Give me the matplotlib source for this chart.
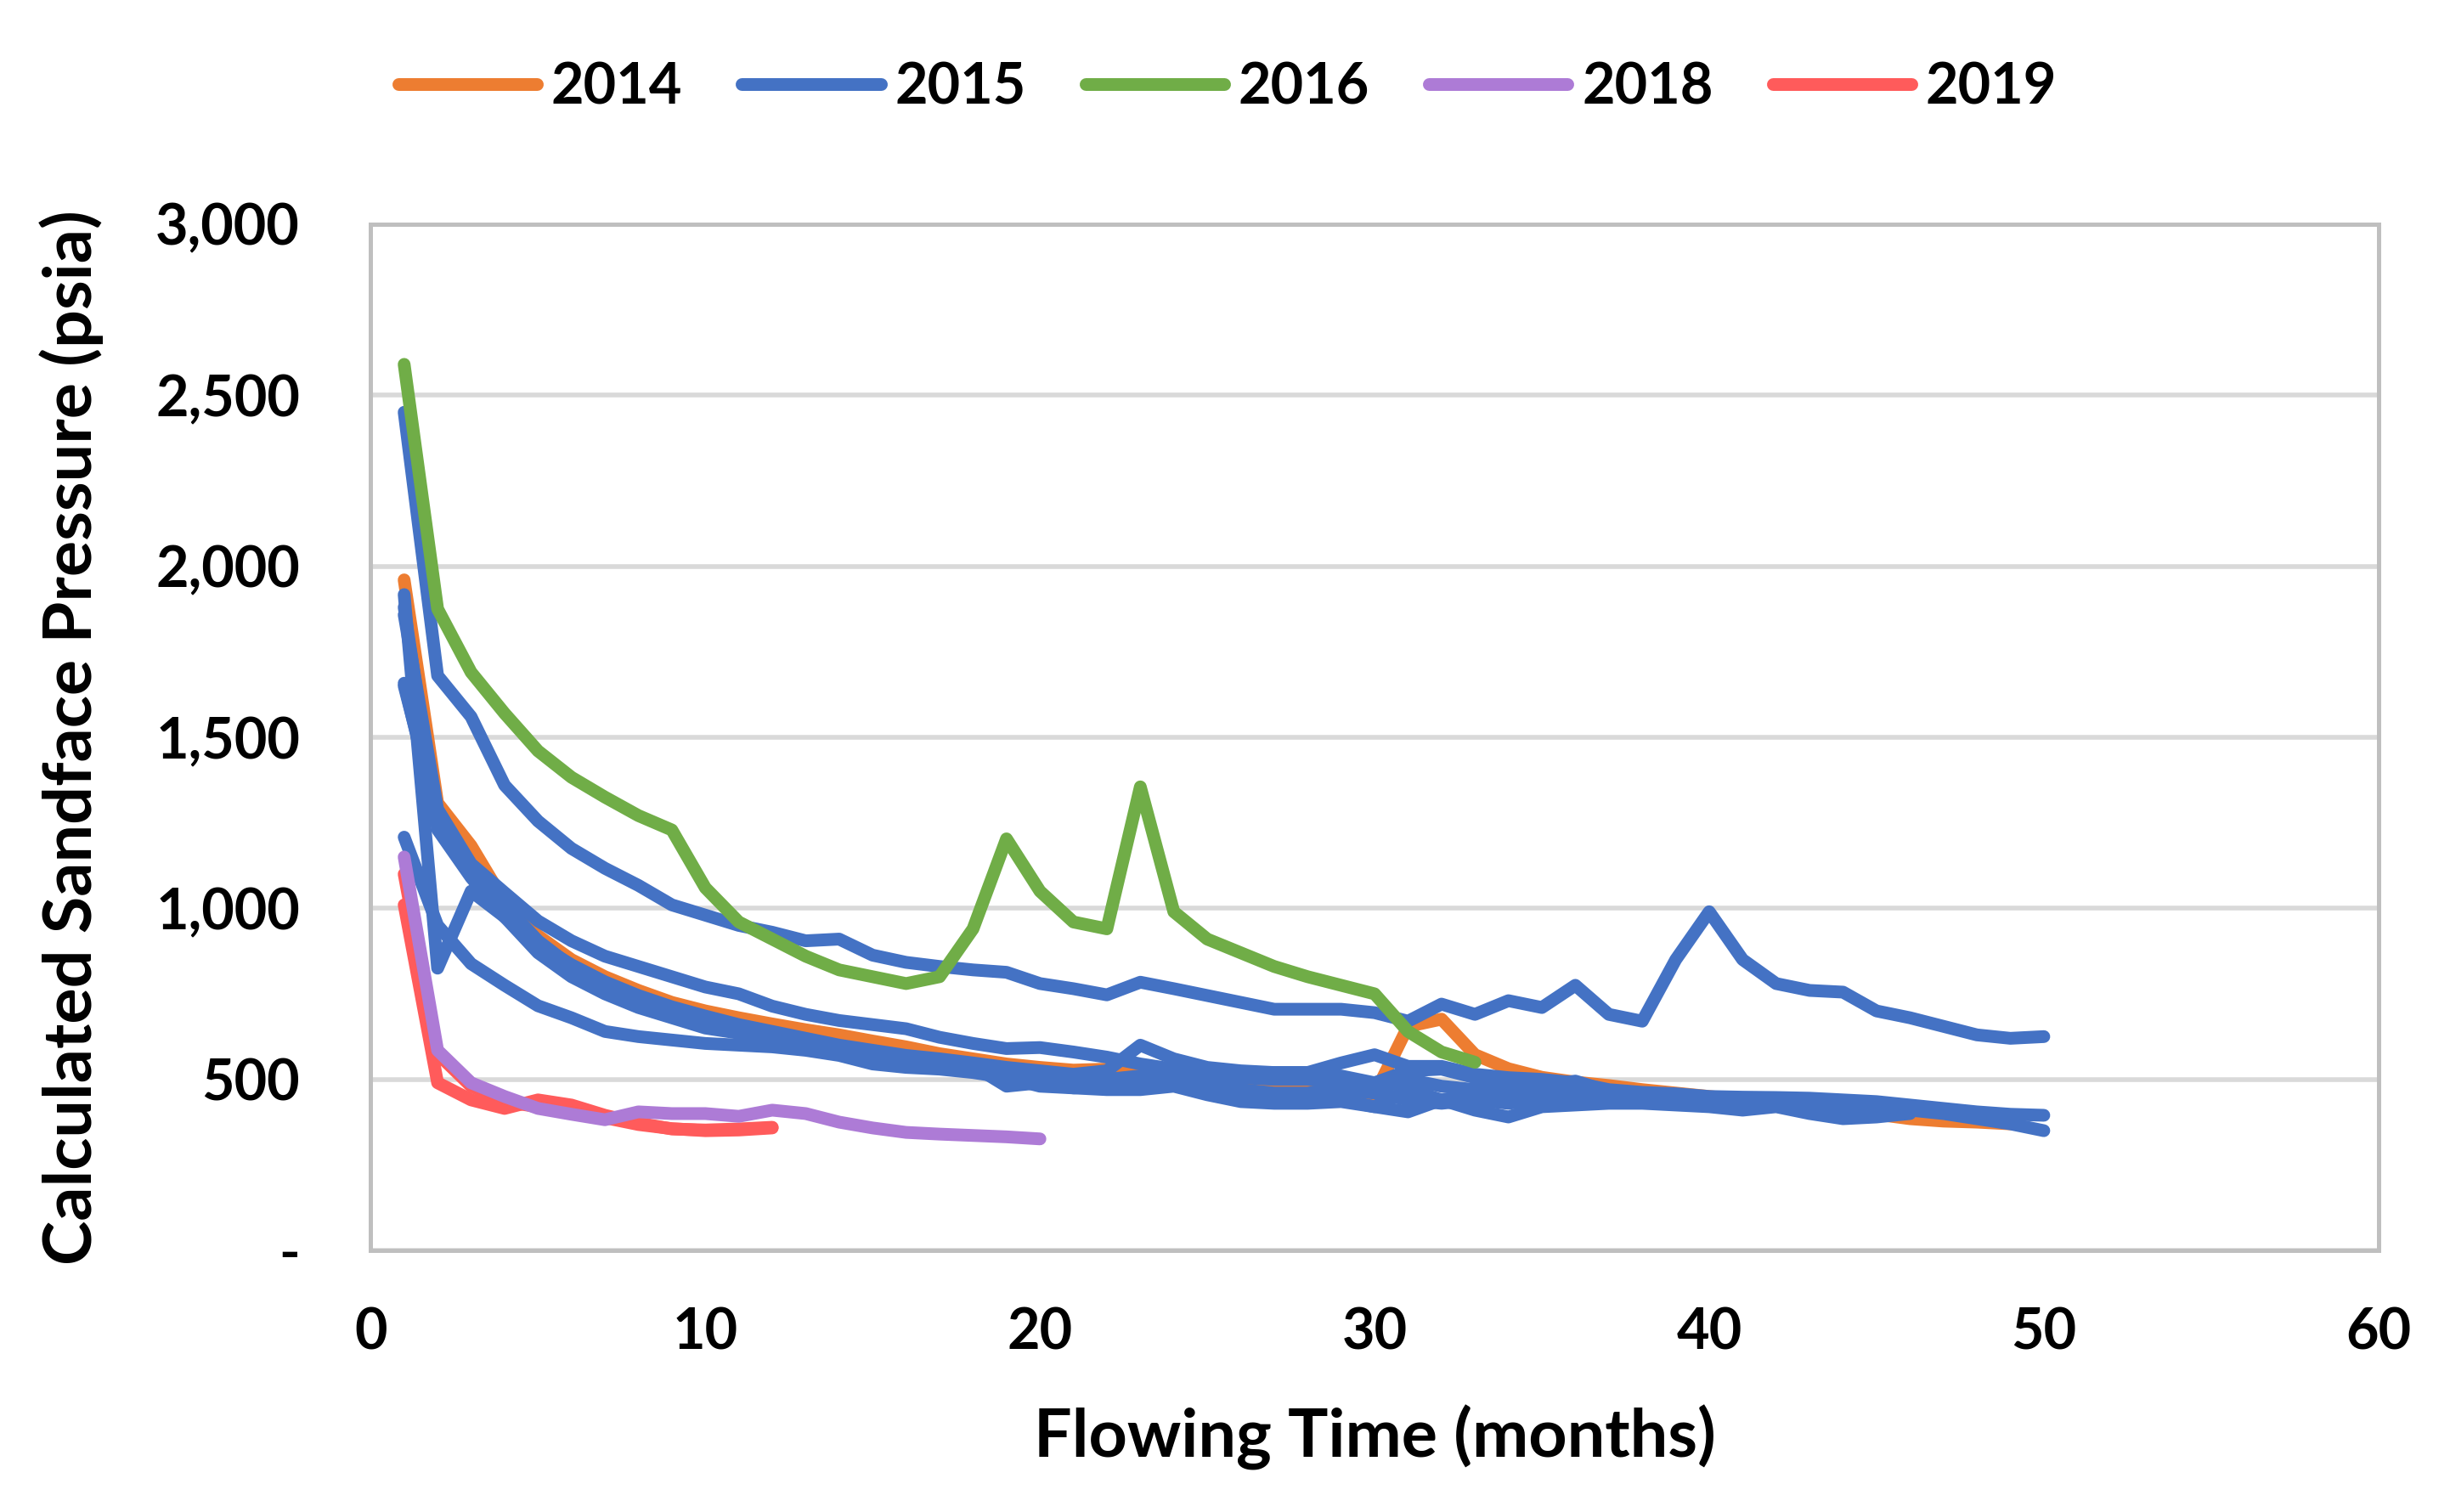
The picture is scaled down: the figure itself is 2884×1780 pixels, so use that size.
import matplotlib
matplotlib.use('Agg')
import matplotlib.pyplot as plt
from matplotlib.ticker import FuncFormatter
import numpy as np

plt.rcParams['font.family'] = ['Lato', 'DejaVu Sans']
plt.rcParams['font.weight'] = 'bold'

# data, month 1..n
orange_2014 = [1960, 1308, 1183, 1020, 920, 850, 800, 760, 725, 700, 680, 662, 645, 630, 612,
               595, 575, 560, 545, 535, 527, 530, 520, 506, 492, 485, 478, 470, 475, 456,
               655, 676, 572, 531, 506, 492, 482, 470, 460, 450, 440, 430, 420, 410, 398,
               385, 378, 375, 370]

blue_2015 = [
    [2450, 1680, 1560, 1360, 1255, 1175, 1117, 1067, 1010, 980, 950, 930, 905, 910, 863,
     842, 830, 820, 813, 780, 765, 747, 784, 765, 745, 725, 705, 705, 705, 695,
     670, 720, 690, 730, 710, 775, 690, 670, 850, 990, 850, 780, 760, 755, 700,
     680, 655, 630, 620, 625],
    [1917, 825, 1050, 975, 895, 835, 785, 745, 712, 685, 660, 640, 620, 600, 585,
     570, 560, 548, 535, 525, 515, 525, 600, 560, 535, 525, 520, 520, 510, 490,
     525, 530, 505, 470, 480, 495, 465, 455, 450, 445, 440, 440, 435, 430],
    [1858, 1290, 1130, 1046, 963, 905, 860, 830, 800, 770, 750, 714, 690, 672, 660,
     648, 623, 605, 590, 593, 580, 565, 545, 530, 525, 520, 520, 520, 548, 572,
     538, 538, 515, 505, 500, 490, 470, 462, 458, 450, 448, 447, 445, 440, 435,
     425, 415, 405, 398, 395],
    [1658, 1250, 1100, 980, 880, 810, 760, 720, 690, 660, 640, 620, 600, 580, 565,
     555, 545, 540, 480, 490, 475, 480, 480, 500, 470, 450, 445, 450, 440, 420,
     470, 440, 455, 440, 455, 450, 440, 440, 435, 430, 430, 435, 420, 410, 415,
     410, 400, 385, 370, 350],
    [1208, 950, 838, 775, 715, 680, 640, 625, 615, 605, 600, 595, 585, 570, 545,
     535, 530, 520, 505, 480, 475, 470, 470, 480, 455, 435, 430, 430, 435, 420,
     405, 440, 410, 390, 420, 425, 430, 430, 425, 420, 410, 420, 400, 385, 390,
     400],
    [1880, 1230, 1090, 975, 870, 800, 750, 710, 680, 650, 635, 615, 595, 575, 560,
     550, 540, 530, 520, 505, 495, 500, 510, 530, 515, 505, 500, 500, 490, 470,
     500, 480, 470, 460, 455, 470, 455, 450, 445, 440, 440, 440, 430, 425, 425,
     420, 410],
    [1650, 1270, 1120, 1010, 905, 830, 775, 735, 700, 670, 650, 630, 610, 590, 575,
     560, 550, 540, 520, 500, 490, 480, 495, 510, 490, 470, 460, 460, 470, 460,
     440, 430, 440, 430, 440, 445, 440, 435, 430, 430, 425],
]

green_2016 = [2590, 1875, 1690, 1570, 1460, 1383, 1325, 1271, 1229, 1060, 960, 910, 860, 820, 800,
              780, 800, 940, 1203, 1050, 960, 940, 1355, 990, 910, 870, 830, 800, 775, 750,
              640, 580, 550]

purple_2018 = [1150, 585, 490, 450, 415, 398, 382, 405, 400, 400, 392, 410, 400, 375, 358,
               345, 340, 336, 332, 326]

red_2019 = [
    [1010, 490, 440, 415, 440, 425, 395, 372, 355, 352, 355, 360],
    [1100, 575, 480, 435, 420, 408, 388, 368, 356, 350, 352, 358],
]

c_orange = '#ED7D31'
c_blue = '#4472C4'
c_green = '#70AD47'
c_purple = '#AD7BD6'
c_red = '#FF5B5B'
lw = 5.4


def months(vals):
    return np.arange(1, len(vals) + 1)


fig = plt.figure(figsize=(14.42, 8.9), dpi=200)
ax = fig.add_axes([0.1513, 0.173, 0.8195, 0.6788])

kw = dict(linewidth=lw, solid_capstyle='round', solid_joinstyle='round')
ax.plot(months(orange_2014), orange_2014, color=c_orange, label='2014', **kw)
for i, s in enumerate(blue_2015):
    ax.plot(months(s), s, color=c_blue, label='2015' if i == 0 else None, **kw)
ax.plot(months(green_2016), green_2016, color=c_green, label='2016', **kw)
for i, s in enumerate(red_2019):
    ax.plot(months(s), s, color=c_red, label='2019' if i == 0 else None, **kw)
ax.plot(months(purple_2018), purple_2018, color=c_purple, label='2018', **kw)

ax.set_xlim(0, 60)
ax.set_ylim(0, 3000)
ax.set_xticks(np.arange(0, 61, 10))
ax.set_yticks(np.arange(0, 3001, 500))
ax.yaxis.set_major_formatter(FuncFormatter(lambda v, p: '-' if v == 0 else f'{int(v):,}'))
ax.grid(axis='y', color='#D9D9D9', linewidth=2.0)
ax.set_axisbelow(True)
for sp in ax.spines.values():
    sp.set_color('#BFBFBF')
    sp.set_linewidth(1.8)
ax.tick_params(length=0, labelsize=24)
ax.tick_params(axis='x', pad=24)
ax.tick_params(axis='y', pad=30)

ax.set_xlabel('Flowing Time (months)', fontsize=28.5, fontweight='bold')
ax.set_ylabel('Calculated Sandface Pressure (psia)', fontsize=28.5, fontweight='bold')
ax.xaxis.set_label_coords(0.5, -0.15)
ax.yaxis.set_label_coords(-0.133, 0.5)

handles, labels = ax.get_legend_handles_labels()
order = ['2014', '2015', '2016', '2018', '2019']
hmap = dict(zip(labels, handles))
fig.legend([hmap[k] for k in order], order, loc='center', bbox_to_anchor=(0.501, 0.942),
           ncol=5, frameon=False, fontsize=24, handlelength=2.45, handletextpad=0.25,
           columnspacing=1.05)

fig.savefig('out.png', dpi=200)
